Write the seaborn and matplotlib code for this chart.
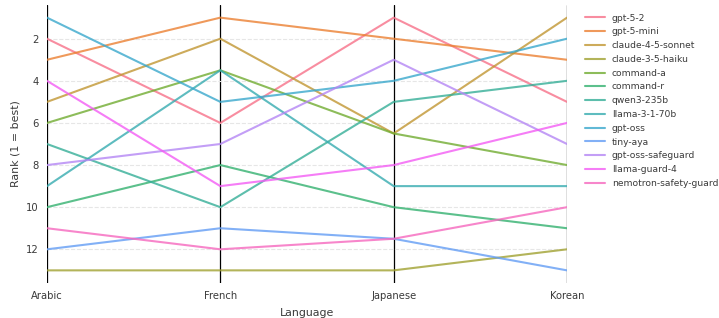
import matplotlib
matplotlib.use("Agg")
import matplotlib.pyplot as plt
import seaborn as sns
import pandas as pd

languages = ["Arabic", "French", "Japanese", "Korean"]
models = ["gpt-5-2", "gpt-5-mini", "claude-4-5-sonnet", "claude-3-5-haiku",
          "command-a", "command-r", "qwen3-235b", "llama-3-1-70b", "gpt-oss",
          "tiny-aya", "gpt-oss-safeguard", "llama-guard-4", "nemotron-safety-guard"]
gpt_5_2 = [2, 6, 1, 5]
gpt_5_mini = [3, 1, 2, 3]
claude_4_5_sonnet = [5, 2, 6.5, 1]
claude_3_5_haiku = [13, 13, 13, 12]
command_a = [6, 3.5, 6.5, 8]
command_r = [10, 8, 10, 11]
qwen3_235b = [7, 10, 5, 4]
llama_3_1_70b = [9, 3.5, 9, 9]
gpt_oss = [1, 5, 4, 2]
tiny_aya = [12, 11, 11.5, 13]
gpt_oss_safeguard = [8, 7, 3, 7]
llama_guard_4 = [4, 9, 8, 6]
nemotron_safety_guard = [11, 12, 11.5, 10]

ranks = [gpt_5_2, gpt_5_mini, claude_4_5_sonnet, claude_3_5_haiku, command_a,
         command_r, qwen3_235b, llama_3_1_70b, gpt_oss, tiny_aya,
         gpt_oss_safeguard, llama_guard_4, nemotron_safety_guard]

rows = []
for m, vals in zip(models, ranks):
    for i, (lang, v) in enumerate(zip(languages, vals)):
        rows.append({"Model": m, "Language": lang, "pos": i, "Rank": v})
df = pd.DataFrame(rows)

sns.set_style("white")
fig = plt.figure(figsize=(7.19, 3.18), dpi=100)
ax = fig.add_axes([47/719, 1 - 283/318, (567 - 47)/719, (283 - 5)/318])

sns.lineplot(data=df, x="pos", y="Rank", hue="Model", hue_order=models,
             palette=sns.color_palette("husl", len(models)), alpha=0.8,
             linewidth=1.5, ax=ax)

for i in range(len(languages)):
    ax.axvline(i, color="black", linewidth=0.9, zorder=0.5)

ax.set_xlim(0, len(languages) - 1)
ax.set_ylim(13.6, 0.4)
ax.set_xticks(range(len(languages)))
ax.set_xticklabels(languages)
ax.set_yticks([2, 4, 6, 8, 10, 12])
ax.tick_params(axis="both", labelsize=7.2, length=0, colors="#3a3a3a", pad=6)
ax.yaxis.grid(True, linestyle="--", color="#e6e6e6", linewidth=0.8)
ax.set_axisbelow(True)
ax.set_xlabel("Language", fontsize=7.9, color="#3a3a3a", labelpad=5)
ax.set_ylabel("Rank (1 = best)", fontsize=7.9, color="#3a3a3a", labelpad=4)
sns.despine(ax=ax, left=True, bottom=True)

leg = ax.legend(loc="upper left", bbox_to_anchor=(581/719, 1 - 10/318),
                bbox_transform=fig.transFigure, borderaxespad=0, frameon=False,
                fontsize=6.6, handlelength=2.2, handletextpad=0.75,
                labelspacing=0.52)
for t in leg.get_texts():
    t.set_color("#3a3a3a")

fig.savefig("out.png", dpi=100)
